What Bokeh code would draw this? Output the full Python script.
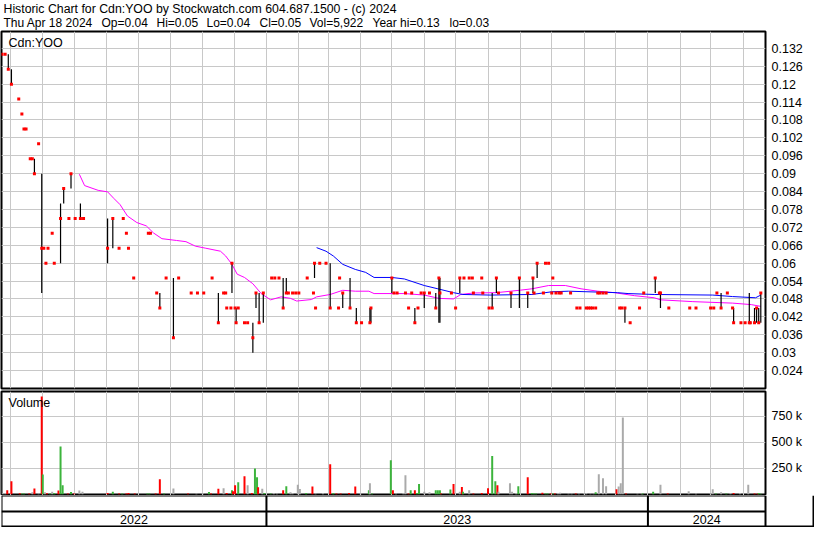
import pandas as pd
from bokeh.plotting import figure
from bokeh.layouts import column
from bokeh.models import Range1d, FixedTicker, CustomJSTickFormatter, Span, Label
from bokeh.embed import file_html
from bokeh.resources import INLINE
from bokeh.core.properties import value

# ---------------- data ----------------
TITLE_1 = "Historic Chart for Cdn:YOO by Stockwatch.com 604.687.1500 - (c) 2024"
HEADER_FIELDS = ["Thu Apr 18 2024", "Op=0.04", "Hi=0.05", "Lo=0.04", "Cl=0.05",
                 "Vol=5,922", "Year hi=0.13", "lo=0.03"]
SYMBOL = "Cdn:YOO"
VOL_TITLE = "Volume"

START = pd.Timestamp("2022-04-22")          # day 0 of the day offsets below
VIEW_START = pd.Timestamp("2022-04-22 12:00")
VIEW_END = pd.Timestamp("2024-04-22 12:00")

# closes (days since START, price)
close_day = [1, 4, 7, 10, 17, 20, 22, 24, 28, 30,
             32, 36, 39, 41, 43, 45, 49, 51, 57, 60,
             65, 67, 71, 76, 79, 102, 107, 113, 117, 120,
             122, 127, 141, 143, 149, 152, 158, 165, 170, 182,
             188, 194, 202, 208, 213, 215, 216, 220, 221, 224,
             225, 227, 233, 236, 241, 244, 247, 251, 259, 262,
             266, 270, 273, 275, 279, 282, 285, 293, 299, 300,
             301, 305, 311, 315, 323, 324, 327, 334, 340, 345,
             353, 354, 374, 376, 379, 387, 390, 393, 396, 399,
             402, 405, 410, 416, 419, 420, 431, 435, 439, 443,
             448, 451, 452, 460, 461, 467, 470, 474, 476, 488,
             496, 504, 509, 510, 513, 519, 521, 524, 527, 528,
             531, 534, 536, 545, 551, 554, 560, 562, 564, 566,
             569, 571, 573, 576, 579, 592, 594, 597, 602, 611,
             615, 626, 630, 631, 639, 659, 665, 679, 682, 685,
             689, 695, 700, 701, 708, 712, 716, 717, 721, 723,
             725, 727]
close_px = [.13, .13, .125, .12, .115, .11, .105, .105, .095, .095,
            .09, .1, .065, .065, .06, .065, .07, .06, .075, .085,
            .075, .09, .075, .075, .075, .065, .075, .065, .075, .07,
            .065, .055, .07, .07, .05, .045, .055, .035, .055, .05,
            .05, .05, .055, .04, .05, .05, .045, .045, .06, .045,
            .04, .045, .04, .04, .035, .05, .04, .05, .055, .055,
            .055, .045, .05, .05, .05, .05, .05, .055, .05, .06,
            .045, .06, .06, .045, .045, .055, .05, .045, .04, .04,
            .04, .045, .055, .05, .05, .05, .045, .05, .04, .045,
            .05, .05, .05, .045, .055, .05, .05, .045, .055, .055,
            .055, .055, .05, .055, .05, .045, .045, .055, .05, .05,
            .055, .05, .055, .05, .06, .05, .06, .06, .05, .055,
            .05, .05, .05, .05, .045, .045, .045, .045, .045, .045,
            .045, .05, .05, .05, .05, .045, .045, .045, .04, .045,
            .05, .055, .05, .05, .045, .045, .045, .045, .045, .05,
            .045, .05, .045, .04, .04, .04, .04, .04, .04, .045,
            .04, .05]

# daily high-low ranges
range_day = [7, 10, 32, 39, 57, 60, 67, 76, 102, 107,
             152, 165, 208, 221, 225, 241, 244, 247, 251, 270,
             273, 300, 315, 327, 334, 340, 353, 354, 374, 396,
             405, 416, 419, 420, 439, 470, 474, 488, 496, 504,
             509, 513, 597, 626, 631, 689, 701, 716, 721, 723,
             725, 727]
range_hi = [.13, .125, .095, .09, .08, .085, .09, .08, .075, .075,
            .05, .055, .05, .06, .045, .04, .05, .05, .05, .055,
            .055, .06, .06, .05, .055, .045, .045, .045, .055, .045,
            .05, .05, .055, .055, .055, .05, .055, .05, .055, .05,
            .055, .06, .045, .055, .05, .05, .045, .05, .045, .045,
            .045, .05]
range_lo = [.125, .12, .09, .05, .06, .08, .085, .075, .06, .065,
            .045, .035, .04, .05, .04, .03, .045, .04, .04, .045,
            .05, .055, .045, .045, .045, .04, .04, .04, .05, .04,
            .045, .045, .04, .04, .05, .045, .05, .045, .045, .045,
            .05, .055, .04, .05, .045, .045, .04, .04, .04, .04,
            .04, .04]

# moving averages (magenta = short, blue = long)
ma_short_day = [75, 80, 93, 102, 108, 114, 121, 130, 139, 146,
                154, 168, 177, 186, 196, 210, 215, 221, 226, 233,
                241, 249, 258, 268, 277, 283, 297, 302, 315, 327,
                339, 352, 357, 386, 405, 419, 433, 440, 452, 474,
                496, 508, 524, 540, 555, 571, 587, 606, 625, 631,
                662, 700, 718, 727]
ma_short_px = [.0898, .086, .0844, .0839, .0817, .0796, .0758, .0736, .0725, .0701,
               .0682, .0676, .0672, .0657, .065, .064, .0624, .0596, .0563, .0552,
               .0531, .0498, .0477, .0487, .0482, .0473, .0478, .0487, .0495, .0509,
               .0506, .0506, .0498, .0498, .0493, .0482, .048, .0495, .05, .0501,
               .0509, .0514, .0525, .0525, .0514, .0506, .0501, .0491, .0484, .0477,
               .0471, .0466, .0461, .0455]
ma_long_day = [302, 311, 318, 327, 339, 349, 357, 374, 386, 405,
               418, 433, 442, 468, 508, 527, 543, 590, 600, 625,
               681, 700, 722, 727]
ma_long_px = [.0652, .064, .0624, .0596, .0579, .0569, .0552, .0552, .0547, .0525,
              .0514, .0501, .0495, .0493, .0495, .0504, .0506, .0501, .0498, .0495,
              .0493, .0488, .0484, .0493]

# volume (days since START, thousands of shares, d=down u=up n=unchanged)
vol_day = [0, 2, 4, 6, 10, 18, 20, 22, 27, 30,
           32, 36, 39, 40, 42, 44, 47, 49, 51, 55,
           57, 59, 64, 67, 70, 75, 78, 102, 107, 113,
           116, 120, 122, 128, 140, 142, 148, 152, 156, 165,
           179, 187, 193, 199, 201, 208, 213, 216, 221, 222,
           224, 227, 233, 236, 240, 243, 245, 246, 250, 252,
           258, 261, 264, 270, 273, 277, 279, 284, 286, 292,
           298, 301, 308, 315, 318, 321, 325, 333, 339, 344,
           352, 353, 355, 373, 375, 378, 385, 387, 390, 392,
           396, 398, 400, 405, 410, 416, 418, 420, 421, 430,
           433, 439, 441, 442, 448, 452, 460, 466, 470, 473,
           475, 476, 487, 489, 493, 495, 504, 508, 510, 512,
           518, 521, 523, 526, 528, 530, 533, 535, 543, 546,
           550, 553, 558, 560, 564, 567, 569, 572, 576, 579,
           589, 591, 593, 595, 598, 609, 613, 614, 624, 631,
           638, 658, 665, 679, 681, 684, 689, 694, 698, 701,
           707, 715, 721, 724, 725, 727]
vol_k = [250, 13, 13, 38, 125, 10, 8, 8, 8, 20,
         55, 8, 942, 190, 20, 10, 8, 25, 12, 35,
         460, 87, 8, 22, 8, 35, 25, 12, 25, 8,
         8, 8, 12, 8, 8, 8, 8, 145, 8, 55,
         8, 8, 12, 22, 8, 52, 58, 12, 38, 30,
         87, 115, 173, 87, 12, 247, 163, 67, 52, 12,
         8, 12, 8, 38, 77, 20, 12, 91, 50, 12,
         74, 8, 12, 288, 12, 8, 8, 12, 74, 8,
         38, 105, 8, 327, 38, 8, 12, 183, 8, 38,
         38, 12, 99, 25, 20, 38, 38, 38, 8, 45,
         99, 25, 70, 25, 38, 8, 12, 58, 368, 125,
         87, 25, 105, 25, 12, 77, 163, 12, 8, 8,
         15, 8, 8, 8, 8, 8, 12, 15, 8, 8,
         8, 8, 12, 12, 8, 8, 20, 192, 154, 77,
         48, 74, 105, 740, 8, 8, 8, 8, 25, 91,
         8, 30, 8, 12, 48, 8, 20, 8, 12, 12,
         12, 91, 8, 8, 12, 6]
vol_dir = list("nnnddduudn" "dndundunud" "uududnndud" "uddduuddun"
               "dnnuddndud" "dudnduudnu" "unndunnnnu" "dnnduddddn"
               "unuudnnndu" "duunnuuudu" "dndunddduu" "dnnnnuduuu"
               "duududnnnn" "dnnnnnunnn" "dnnndnnuun" "dnnnnunund"
               "nndduu")

PRICE_TICKS = [0.024, 0.03, 0.036, 0.042, 0.048, 0.054, 0.06, 0.066, 0.072,
               0.078, 0.084, 0.09, 0.096, 0.102, 0.108, 0.114, 0.12, 0.126, 0.132]
VOL_TICKS = [250000, 500000, 750000]
YEAR_BREAKS = ["2023-01-01", "2024-01-01"]
YEAR_LABELS = ["2022", "2023", "2024"]

# ---------------- helpers ----------------
FONT = "Liberation Sans"
FS = "12.5px"
GRID = "#c8c8c8"
VOL_COLORS = {"d": "#ff0000", "u": "#3cb43c", "n": "#aaaaaa"}
W = 814
RIGHT_W = 49
FRAME_W = W - 1 - RIGHT_W


def ms(t):
    return pd.Timestamp(t).value / 1e6


def day_ms(days):
    return [ms(START + pd.Timedelta(days=d)) for d in days]


def no_align(f):
    if "frame_align" in f.properties():
        f.frame_align = False


X0, X1 = ms(VIEW_START), ms(VIEW_END)
xr = Range1d(X0, X1)
MONTHS = [ms(t) for t in pd.date_range("2022-05-01", "2024-04-01", freq="MS")]
DAY = 86400000.0


def style_axis(ax, ticks, code):
    ax.ticker = FixedTicker(ticks=ticks)
    ax.formatter = CustomJSTickFormatter(code=code)
    ax.major_tick_in = 0
    ax.major_tick_out = 0
    ax.minor_tick_in = 0
    ax.minor_tick_out = 0
    ax.axis_line_color = None
    ax.major_label_text_font = FONT
    ax.major_label_text_font_size = FS
    ax.major_label_text_color = "black"
    ax.major_label_standoff = 6


def panel(height, yr, bottom):
    f = figure(width=W, height=height, x_range=xr, y_range=yr,
               output_backend="svg", toolbar_location=None,
               x_axis_location=None, y_axis_location="right",
               min_border_left=1, min_border_right=RIGHT_W,
               min_border_top=1, min_border_bottom=bottom)
    f.outline_line_color = "black"
    f.outline_line_width = 2
    f.background_fill_color = "white"
    f.border_fill_color = "white"
    f.xgrid.ticker = FixedTicker(ticks=MONTHS)
    f.xgrid.grid_line_color = GRID
    f.ygrid.grid_line_color = GRID
    return f


# ---------------- header ----------------
HEADER_H = 30
h = figure(width=W, height=HEADER_H, x_range=Range1d(0, W), y_range=Range1d(HEADER_H, 0),
           output_backend="svg", toolbar_location=None,
           x_axis_location=None, y_axis_location=None, min_border=0)
no_align(h)
h.outline_line_color = None
h.xgrid.visible = False
h.ygrid.visible = False
h.text(x=[3], y=[1], text=[TITLE_1], text_font=value(FONT),
       text_font_size="12.3px", text_color="black", text_baseline="top")
h.text(x=[3, 101, 156, 206, 259, 309, 372, 449], y=[15] * len(HEADER_FIELDS),
       text=HEADER_FIELDS, text_font=value(FONT), text_font_size="12px",
       text_color="black", text_baseline="top")

# ---------------- price panel ----------------
p = panel(360, Range1d(0.01798, 0.13765), 2)
style_axis(p.yaxis[0], PRICE_TICKS, "return parseFloat(tick.toFixed(3)).toString();")
p.ygrid.ticker = FixedTicker(ticks=PRICE_TICKS)
p.line(day_ms(ma_short_day), ma_short_px, line_color="#ff00ff", line_width=1)
p.line(day_ms(ma_long_day), ma_long_px, line_color="#0000ff", line_width=1)
rx = day_ms(range_day)
p.segment(x0=rx, y0=range_hi, x1=rx, y1=range_lo, line_color="black", line_width=1.2)
p.scatter(day_ms(close_day), close_px, marker="square", size=3,
          fill_color="#ff0000", line_color=None)
p.add_layout(Label(x=X0, y=0.13765, x_offset=7, y_offset=-4, text=SYMBOL,
                   text_font=FONT, text_font_size=FS, text_color="black",
                   text_baseline="top"))

# ---------------- volume panel ----------------
v = panel(105, Range1d(-12000, 989600), 0)
style_axis(v.yaxis[0], VOL_TICKS, "return (tick / 1000) + ' k';")
v.ygrid.ticker = FixedTicker(ticks=VOL_TICKS)
v.vbar(x=day_ms(vol_day), top=[k * 1000 for k in vol_k], bottom=0, width=1.9 * DAY,
       fill_color=[VOL_COLORS[c] for c in vol_dir], line_color=None)
v.add_layout(Label(x=X0, y=989600, x_offset=7, y_offset=-4, text=VOL_TITLE,
                   text_font=FONT, text_font_size=FS, text_color="black",
                   text_baseline="top"))

# ---------------- year band ----------------
X2 = X0 + (X1 - X0) * (W - 1) / FRAME_W
PX = (X2 - X0) / (W - 1)
d = figure(width=W, height=32, x_range=Range1d(X0, X2), y_range=Range1d(0, 32),
           output_backend="svg", toolbar_location=None,
           x_axis_location=None, y_axis_location=None,
           min_border_left=1, min_border_right=0, min_border_top=0, min_border_bottom=0)
no_align(d)
d.outline_line_color = None
d.xgrid.visible = False
d.ygrid.visible = False
d.segment(x0=[X0, X0], y0=[32, 16], x1=[X1, X1], y1=[32, 16], line_color="black", line_width=2)
d.add_layout(Span(location=1, dimension="width", line_color="black", line_width=2))
for loc in [X0, X1, X2 - PX] + [ms(b) for b in YEAR_BREAKS]:
    d.add_layout(Span(location=loc, dimension="height", line_color="black", line_width=2))
edges = [X0] + [ms(b) for b in YEAR_BREAKS] + [X1]
mids = [(edges[i] + edges[i + 1]) / 2 for i in range(len(YEAR_LABELS))]
d.text(x=mids, y=[8] * len(mids), text=YEAR_LABELS, text_font=value(FONT),
       text_font_size=FS, text_color="black", text_align="center",
       text_baseline="middle")

layout = column(h, p, v, d)
open("out.html", "w").write(file_html(layout, INLINE))
